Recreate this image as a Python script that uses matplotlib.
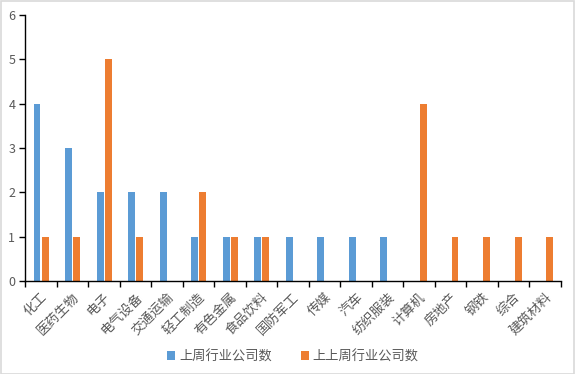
import matplotlib
matplotlib.use("Agg")
import matplotlib.pyplot as plt
from matplotlib.patches import Rectangle
import numpy as np

plt.rcParams['font.family'] = ['Noto Sans CJK SC', 'DejaVu Sans']

categories = ["化工", "医药生物", "电子", "电气设备", "交通运输", "轻工制造", "有色金属",
              "食品饮料", "国防军工", "传媒", "汽车", "纺织服装", "计算机", "房地产",
              "钢铁", "综合", "建筑材料"]
last_week = [4, 3, 2, 2, 2, 1, 1, 1, 1, 1, 1, 1, 0, 0, 0, 0, 0]
prev_week = [1, 1, 5, 1, 0, 2, 1, 1, 0, 0, 0, 0, 4, 1, 1, 1, 1]
series_names = ["上周行业公司数", "上上周行业公司数"]

blue = "#5b9bd5"
orange = "#ed7d31"
txt = "#595959"

fig = plt.figure(figsize=(5.75, 3.74), dpi=100)
fig.patches.append(Rectangle((0.001, 0.001), 0.997, 0.996, transform=fig.transFigure,
                             fill=False, edgecolor="#d9d9d9", linewidth=1.2))
ax = fig.add_axes([0.0435, 0.2487, 0.932, 0.7112])

x = np.arange(len(categories))
w = 0.22
ax.bar(x - 0.12, last_week, w, color=blue, label=series_names[0])
ax.bar(x + 0.14, prev_week, w, color=orange, label=series_names[1])

ax.set_xlim(-0.5, len(categories) - 0.5)
ax.set_ylim(0, 6)
ax.set_yticks(range(7))

# category boundary ticks
ax.set_xticks(np.arange(-0.5, len(categories), 1))
ax.set_xticklabels([])
ax.set_xticks(x, minor=True)
ax.set_xticklabels(categories, minor=True, rotation=45, ha="right",
                   rotation_mode="anchor", fontsize=9.5, color=txt)
ax.tick_params(axis="x", which="minor", length=0, pad=7)
ax.tick_params(axis="x", which="major", length=4, width=1, color="black")
ax.tick_params(axis="y", length=4, width=1, labelsize=9, labelcolor=txt, pad=3)

for s in ["top", "right"]:
    ax.spines[s].set_visible(False)
for s in ["left", "bottom"]:
    ax.spines[s].set_color("black")
    ax.spines[s].set_linewidth(1)

ax.legend(loc="upper center", bbox_to_anchor=(0.5, -0.215), ncol=2, frameon=False,
          fontsize=9.5, labelcolor=txt, handlelength=0.6, handleheight=0.6,
          handletextpad=0.3, columnspacing=2.2)

fig.savefig("out.png", dpi=100)
